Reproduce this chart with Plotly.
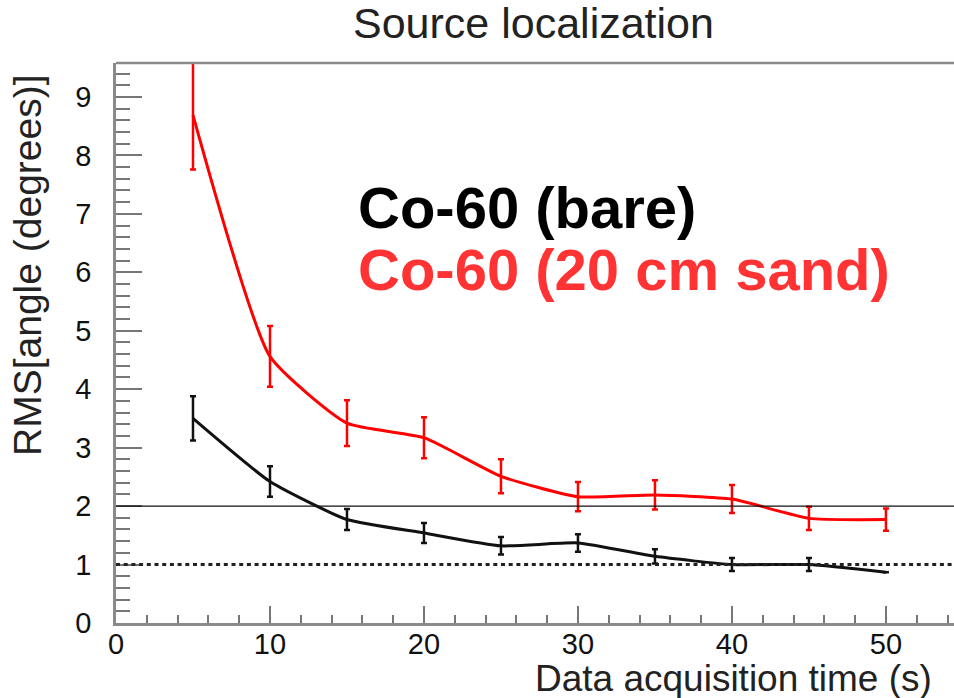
import plotly.graph_objects as go

# Acquisition times (s)
times = [5, 10, 15, 20, 25, 30, 35, 40, 45, 50]

# RMS of the reconstructed angle (degrees) and its uncertainty
rms_bare = [3.50, 2.42, 1.77, 1.54, 1.32, 1.37, 1.14, 1.00, 1.00, 0.87]
err_bare = [0.38, 0.26, 0.18, 0.17, 0.15, 0.15, 0.12, 0.11, 0.11, 0.0]

rms_sand = [8.69, 4.56, 3.42, 3.17, 2.51, 2.16, 2.19, 2.12, 1.79, 1.77]
err_sand = [0.93, 0.52, 0.39, 0.35, 0.29, 0.25, 0.25, 0.24, 0.20, 0.19]

label_bare = "Co-60 (bare)"
label_sand = "Co-60 (20 cm sand)"

# Reference levels (degrees)
level_solid = 2.0
level_dotted = 1.0

x_ticks = [0, 10, 20, 30, 40, 50]
y_ticks = [0, 1, 2, 3, 4, 5, 6, 7, 8, 9]

FONT = "Liberation Sans, Arial, Helvetica, sans-serif"
RED_LINE = "#ff0000"
RED_TEXT = "#ff3333"

fig = go.Figure()

for y, e, col in [(rms_sand, err_sand, RED_LINE), (rms_bare, err_bare, "#111111")]:
    fig.add_trace(go.Scatter(
        x=times, y=y, mode="lines",
        line=dict(color=col, width=3, shape="spline", smoothing=0.5),
        error_y=dict(type="data", array=e, visible=True, color=col,
                     thickness=2.5, width=3),
        showlegend=False, hoverinfo="skip",
    ))

# Horizontal reference lines spanning the frame
fig.add_shape(type="line", xref="paper", yref="y", x0=0, x1=1,
              y0=level_solid, y1=level_solid,
              line=dict(color="#111111", width=1.3))
fig.add_shape(type="line", xref="paper", yref="y", x0=0, x1=1,
              y0=level_dotted, y1=level_dotted,
              line=dict(color="#222222", width=3, dash="4px,3.7px"))
# Top frame line
fig.add_shape(type="line", xref="paper", yref="paper", x0=0, x1=1, y0=1, y1=1,
              line=dict(color="#8a8a8a", width=2.5))

axis_common = dict(
    showgrid=False, zeroline=False, showline=True,
    linecolor="#8a8a8a", linewidth=2.5,
    ticks="inside", tickcolor="#777777", tickwidth=2,
    tickfont=dict(family=FONT, size=29, color="#111111"),
)

fig.update_xaxes(
    range=[0, 54.42], tickvals=x_ticks, ticklen=17,
    minor=dict(dtick=2, ticks="inside", ticklen=8, tickcolor="#777777", tickwidth=2),
    ticklabelstandoff=-7,
    **axis_common,
)
fig.update_yaxes(
    range=[0, 9.58], tickvals=y_ticks, ticklen=26,
    minor=dict(dtick=0.2, ticks="inside", ticklen=14, tickcolor="#777777", tickwidth=2),
    ticklabelstandoff=16,
    **axis_common,
)

annotations = [
    dict(text="Source localization", xref="paper", yref="paper",
         x=(533 - 116) / 838, y=1 + 40 / 560, xanchor="center", yanchor="middle",
         showarrow=False, font=dict(family=FONT, size=43, color="#222222")),
    dict(text="Data acquisition time (s)", xref="paper", yref="paper",
         x=(934 - 116) / 838, y=-55 / 560, xanchor="right", yanchor="middle",
         showarrow=False, font=dict(family=FONT, size=37, color="#222222")),
    dict(text="RMS[angle (degrees)]", xref="paper", yref="paper",
         x=-89 / 838, y=(623 - 265) / 560, xanchor="center", yanchor="middle",
         textangle=-90, showarrow=False,
         font=dict(family=FONT, size=39, color="#222222")),
    dict(text="<b>%s</b>" % label_bare, xref="x", yref="y",
         x=15.6, y=7.1, xanchor="left", yanchor="middle", showarrow=False,
         font=dict(family=FONT, size=58, color="#000000")),
    dict(text="<b>%s</b>" % label_sand, xref="x", yref="y",
         x=15.6, y=6.05, xanchor="left", yanchor="middle", showarrow=False,
         font=dict(family=FONT, size=58, color=RED_TEXT)),
]

fig.update_layout(
    width=954, height=698,
    margin=dict(l=116, r=0, t=63, b=75),
    paper_bgcolor="white", plot_bgcolor="white",
    annotations=annotations,
    showlegend=False,
)

fig.write_html("out.html")
